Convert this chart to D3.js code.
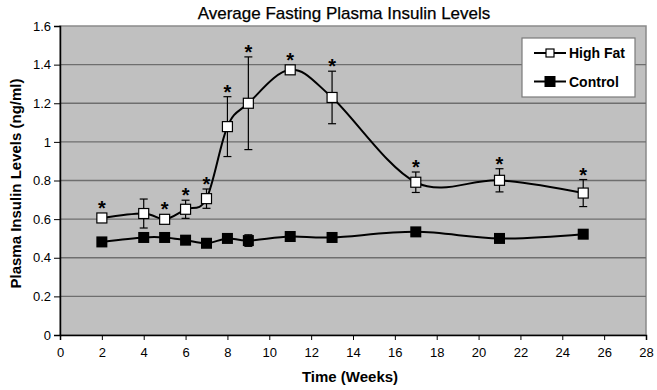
<!DOCTYPE html>
<html lang="en">
<head>
    <title>Average Fasting Plasma Insulin Levels</title>
    <meta charset="utf-8">
    <script src="https://d3js.org/d3.v7.min.js"></script>
    <style>
        body { margin: 0; background: #fff; }
        text { font-family: "Liberation Sans", Arial, sans-serif; }
    </style>
</head>
<body>
<div id="chart"></div>
<script>
    // Data
    const weeks = [2, 4, 5, 6, 7, 8, 9, 11, 13, 17, 21, 25];
    const highFat = [0.606, 0.629, 0.599, 0.651, 0.706, 1.079, 1.20, 1.373, 1.23, 0.791, 0.801, 0.735];
    const highFatErr = [0.02, 0.075, 0.02, 0.047, 0.05, 0.155, 0.24, 0.02, 0.136, 0.053, 0.06, 0.07];
    const significant = [true, false, true, true, true, true, true, true, true, true, true, true];
    const control = [0.482, 0.505, 0.505, 0.491, 0.475, 0.50, 0.489, 0.51, 0.505, 0.534, 0.50, 0.522];
    const controlErr = [0.01, 0.01, 0.01, 0.01, 0.01, 0.01, 0.03, 0.01, 0.01, 0.01, 0.01, 0.01];
    const xTicks = d3.range(0, 29, 2);
    const yTicks = [0, 0.2, 0.4, 0.6, 0.8, 1, 1.2, 1.4, 1.6];
    const seriesNames = ["High Fat", "Control"];

    const W = 657, H = 390;
    const margin = {top: 26, right: 11, bottom: 55, left: 60},
        width = W - margin.left - margin.right,
        height = H - margin.top - margin.bottom;

    const svgRoot = d3.select("#chart").append("svg")
        .attr("width", W)
        .attr("height", H);

    // Title
    svgRoot.append("text")
        .attr("x", 344)
        .attr("y", 19)
        .attr("text-anchor", "middle")
        .style("font-size", "17px")
        .style("stroke", "#000")
        .style("stroke-width", 0.25)
        .text("Average Fasting Plasma Insulin Levels");

    const svg = svgRoot.append("g")
        .attr("transform", `translate(${margin.left},${margin.top})`);

    const x = d3.scaleLinear().domain([0, 28]).range([0, width]);
    const y = d3.scaleLinear().domain([0, 1.6]).range([height, 0]);

    // Plot area
    svg.append("rect")
        .attr("width", width)
        .attr("height", height)
        .attr("fill", "#c0c0c0")
        .attr("stroke", "#8a8a8a")
        .attr("stroke-width", 1.5);

    // Gridlines
    svg.append("g")
        .selectAll("line")
        .data(yTicks.filter(d => d > 0 && d < 1.6))
        .join("line")
        .attr("x1", 0)
        .attr("x2", width)
        .attr("y1", d => y(d))
        .attr("y2", d => y(d))
        .attr("stroke", "#6e6e6e")
        .attr("stroke-width", 1.3);

    // Axes
    const xAxis = svg.append("g")
        .attr("transform", `translate(0,${height})`)
        .call(d3.axisBottom(x).tickValues(xTicks).tickSize(5).tickPadding(8).tickFormat(d3.format("d")));
    const yAxis = svg.append("g")
        .call(d3.axisLeft(y).tickValues(yTicks).tickSize(6).tickPadding(3).tickFormat(d => String(d)));
    [xAxis, yAxis].forEach(a => {
        a.select(".domain").attr("stroke", "#000").attr("stroke-width", 1.5);
        a.selectAll(".tick line").attr("stroke", "#000");
        a.selectAll("text").style("font-size", "13px").attr("fill", "#000")
            .style("font-family", "'Liberation Sans', Arial, sans-serif");
    });

    // Axis titles
    svgRoot.append("text")
        .attr("x", margin.left + x(14) - 3)
        .attr("y", 382)
        .attr("text-anchor", "middle")
        .style("font-size", "15px")
        .style("font-weight", "bold")
        .text("Time (Weeks)");
    svgRoot.append("text")
        .attr("transform", `translate(21,${margin.top + y(0.8) + 3}) rotate(-90)`)
        .attr("text-anchor", "middle")
        .style("font-size", "15px")
        .style("font-weight", "bold")
        .text("Plasma Insulin Levels (ng/ml)");

    const line = d3.line()
        .x(d => x(d.w))
        .y(d => y(d.v))
        .curve(d3.curveCatmullRom.alpha(0));

    const hf = weeks.map((w, i) => ({w, v: highFat[i], e: highFatErr[i], s: significant[i]}));
    const ct = weeks.map((w, i) => ({w, v: control[i], e: controlErr[i]}));

    const drawErrors = (data) => {
        const g = svg.append("g").attr("stroke", "#000").attr("stroke-width", 1.2);
        data.forEach(d => {
            g.append("line").attr("x1", x(d.w)).attr("x2", x(d.w))
                .attr("y1", y(d.v - d.e)).attr("y2", y(d.v + d.e));
            [d.v - d.e, d.v + d.e].forEach(v => {
                g.append("line").attr("x1", x(d.w) - 4).attr("x2", x(d.w) + 4)
                    .attr("y1", y(v)).attr("y2", y(v));
            });
        });
    };

    drawErrors(ct);
    drawErrors(hf);

    // Lines
    svg.append("path").datum(ct).attr("d", line)
        .attr("fill", "none").attr("stroke", "#000").attr("stroke-width", 2);
    svg.append("path").datum(hf).attr("d", line)
        .attr("fill", "none").attr("stroke", "#000").attr("stroke-width", 2);

    // Markers
    svg.append("g").selectAll("rect")
        .data(ct)
        .join("rect")
        .attr("x", d => x(d.w) - 5.5)
        .attr("y", d => y(d.v) - 5.5)
        .attr("width", 11)
        .attr("height", 11)
        .attr("fill", "#000");
    svg.append("g").selectAll("rect")
        .data(hf)
        .join("rect")
        .attr("x", d => x(d.w) - 5)
        .attr("y", d => y(d.v) - 5)
        .attr("width", 10)
        .attr("height", 10)
        .attr("fill", "#fff")
        .attr("stroke", "#000")
        .attr("stroke-width", 1.2);

    // Significance stars
    svg.append("g").selectAll("text")
        .data(hf.filter(d => d.s))
        .join("text")
        .attr("x", d => x(d.w))
        .attr("y", d => Math.min(y(d.v + d.e), y(d.v) - 5) + 2)
        .attr("text-anchor", "middle")
        .style("font-size", "20px")
        .style("font-weight", "bold")
        .text("*");

    // Legend
    const legend = svgRoot.append("g").attr("transform", "translate(522,38)");
    legend.append("rect")
        .attr("width", 113)
        .attr("height", 59)
        .attr("fill", "#fff")
        .attr("stroke", "#7a7a7a")
        .attr("stroke-width", 1.2);
    seriesNames.forEach((name, i) => {
        const cy = 15 + i * 28.5;
        const item = legend.append("g").attr("transform", `translate(0,${cy})`);
        item.append("line").attr("x1", 12).attr("x2", 44).attr("y1", 0).attr("y2", 0)
            .attr("stroke", "#000").attr("stroke-width", 2);
        if (i === 0) {
            item.append("rect").attr("x", 24).attr("y", -4).attr("width", 8).attr("height", 8)
                .attr("fill", "#fff").attr("stroke", "#000").attr("stroke-width", 1.2);
        } else {
            item.append("rect").attr("x", 22.5).attr("y", -5.5).attr("width", 11).attr("height", 11)
                .attr("fill", "#000");
        }
        item.append("text")
            .attr("x", 47)
            .attr("y", 5)
            .style("font-size", "14px")
            .style("font-weight", "bold")
            .text(name);
    });
</script>
</body>
</html>
